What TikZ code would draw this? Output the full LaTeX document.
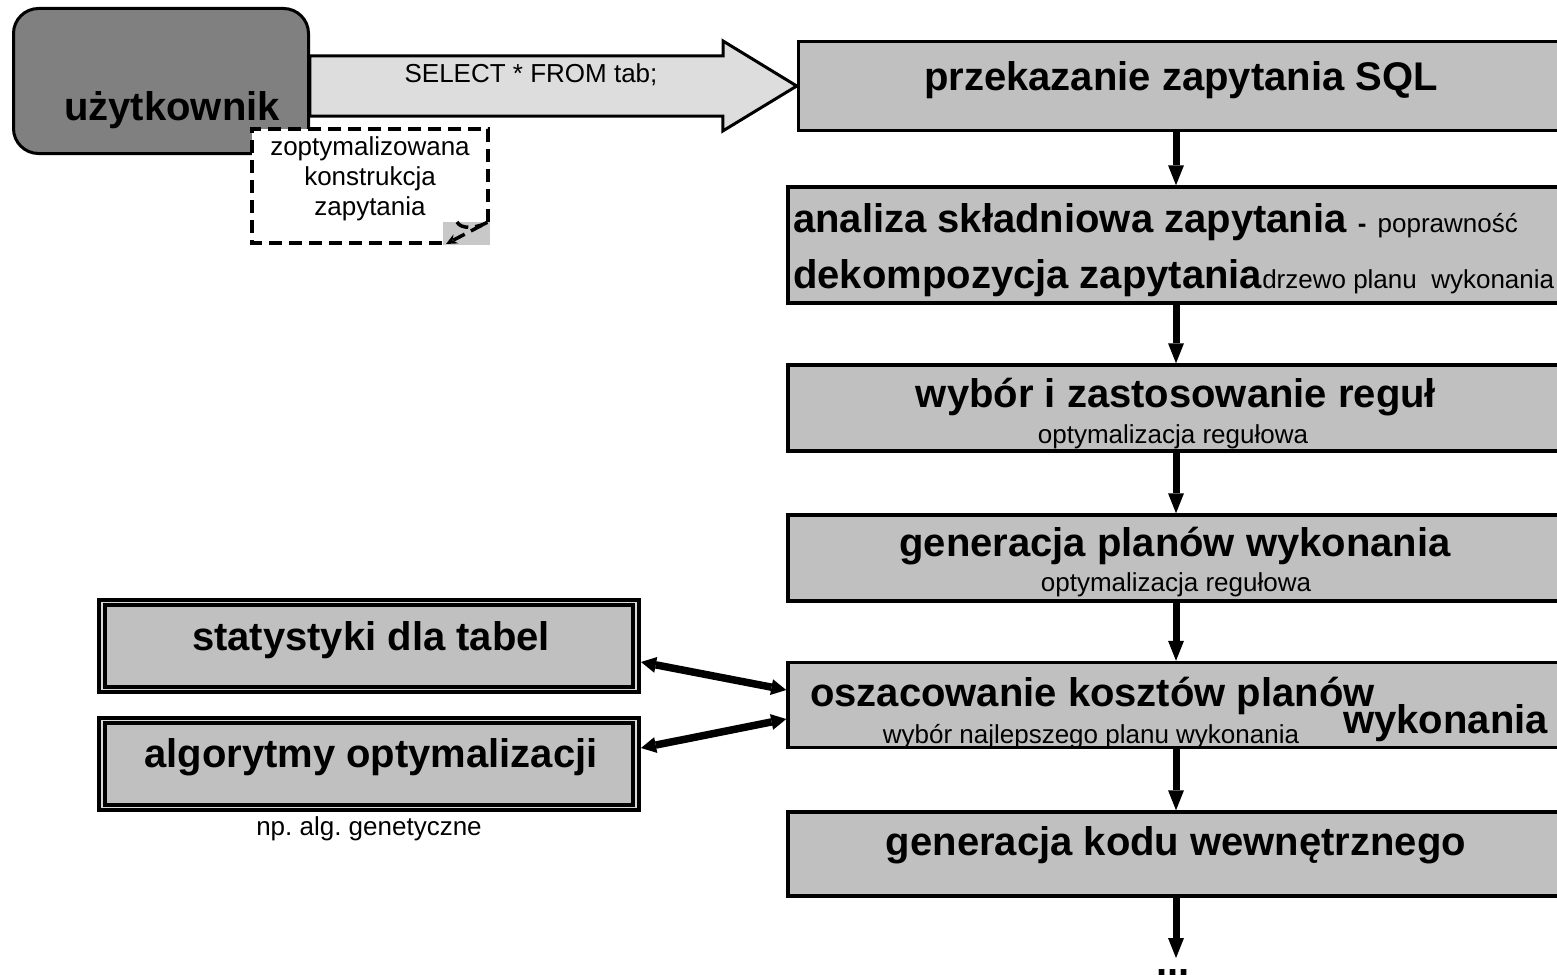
\documentclass[tikz,border=0pt]{standalone}
\usepackage{fontspec}
\setmainfont{Liberation Sans}
\usetikzlibrary{arrows.meta}
\definecolor{boxgray}{HTML}{C0C0C0}
\definecolor{usergray}{HTML}{808080}
\definecolor{sqlgray}{HTML}{DDDDDD}
\definecolor{foldgray}{HTML}{C8C8C8}
\newcommand{\hdfont}{\fontsize{40}{48}\selectfont\bfseries}
\newcommand{\subfont}{\fontsize{26}{30}\selectfont\mdseries}
\frenchspacing

\begin{document}
\begin{tikzpicture}[
  x=1pt, y=-1pt,
  stepbox/.style={
    draw,
    line width=3.5pt,
    fill=boxgray,
    inner sep=0pt,
    minimum width=776pt
  },
  dbox/.style={
    draw,
    line width=4pt,
    double=boxgray!60!white,
    double distance=1.5pt,
    fill=boxgray,
    inner sep=0pt,
    outer sep=5pt,
    minimum width=534pt,
    minimum height=87pt
  },
  hd/.style={font=\hdfont, inner sep=0pt},
  sub/.style={font=\subfont, inner sep=0pt},
  flowarrow/.style={line width=7pt, -{Triangle[length=20pt,width=16pt,line width=0pt]}},
  dblarrow/.style={line width=7.5pt,
    {Triangle[length=15pt,width=16pt,line width=0pt]}-{Triangle[length=15pt,width=16pt,line width=0pt]}},
  fatarrow/.style={draw, line width=3pt, fill=sqlgray, line join=miter},
  notedash/.style={line width=3.5pt, dash pattern=on 13pt off 7pt}
]
  \useasboundingbox (0,0) rectangle (1557,974);

  \node[draw, line width=3pt, fill=usergray, rounded corners=25pt,
        minimum width=295pt, minimum height=145pt] (user) at (161,81) {};
  \node[hd] (usertxt) at (172,110) {użytkownik};

  \node[stepbox, minimum width=765pt, minimum height=89pt] (sql) at (1181,86) {};
  \node[stepbox, minimum height=116pt] (parse) at (1176,245) {};
  \node[stepbox, minimum height=86pt] (rules) at (1176,408) {};
  \node[stepbox, minimum height=86pt] (plans) at (1176,558) {};
  \node[stepbox, minimum height=85pt] (cost) at (1176,705) {};
  \node[stepbox, minimum height=84pt] (code) at (1176,854) {};

  \node[hd] (sqltxt) at (1181,80) {przekazanie zapytania SQL};
  \node[hd, anchor=west] (parsetxt) at (793,222)
    {analiza składniowa zapytania {\subfont\bfseries-} {\subfont poprawność}};
  \node[hd, anchor=west] (decomptxt) at (793,278)
    {dekompozycja zapytania\subfont drzewo planu\ \ wykonania};
  \node[hd] (rulestxt) at (1176,397) {wybór i zastosowanie reguł};
  \node[sub] (rulessub) at (1173,437) {optymalizacja regułowa};
  \node[hd] (planstxt) at (1175,546) {generacja planów wykonania};
  \node[sub] (planssub) at (1176,585) {optymalizacja regułowa};
  \node[hd, anchor=west] (costtxt) at (810,696) {oszacowanie kosztów planów};
  \node[hd, anchor=east] (costtxt2) at (1548,723) {wykonania};
  \node[sub] (costsub) at (1091,737) {wybór najlepszego planu wykonania};
  \node[hd] (codetxt) at (1176,845) {generacja kodu wewnętrznego};
  \node[hd, anchor=base] (dots) at (1173,975) {...};
  \coordinate (next) at (1176,958);

  \node[dbox] (stats) at (369,646) {};
  \node[dbox] (algo) at (369,764) {};
  \node[hd] (statstxt) at (371,640) {statystyki dla tabel};
  \node[hd] (algotxt) at (371,757) {algorytmy optymalizacji};
  \node[sub] (algosub) at (369,829) {np. alg. genetyczne};

  \draw[fatarrow] (user.east |- sql.west) ++(0,-30) -- ++(413,0) -- ++(0,-15)
    -- (sql.west) -- ++(-74,45) -- ++(0,-15) -- ++(-413,0) -- cycle;
  \node[sub] (select) at (531,75) {SELECT * FROM tab;};

  \node[fill=white, inner sep=0pt, outer sep=0pt,
        minimum width=236pt, minimum height=114pt] (note) at (370,186) {};
  \fill[foldgray] ([xshift=-45pt,yshift=21pt]note.south east)
    rectangle ([xshift=2pt,yshift=-2pt]note.south east);
  \draw[notedash] ([yshift=21pt]note.south east) -- (note.north east)
    -- (note.north west) -- (note.south west) -- ([xshift=-41pt]note.south east);
  \draw[notedash, -{Stealth[length=11pt,width=10pt]}]
    ([xshift=-31pt,yshift=21pt]note.south east) .. controls +(4,8) and +(-10,6)
    .. ([yshift=21pt]note.south east) -- ([xshift=-42pt,yshift=-1pt]note.south east);
  \node[sub, align=center, font=\fontsize{26}{30}\selectfont] (notetxt) at (370,179)
    {zoptymalizowana\\konstrukcja\\zapytania};

  \foreach \a/\b in {sql/parse, parse/rules, rules/plans, plans/cost, cost/code}
    \draw[flowarrow] (\a.south -| \b.north) -- (\b.north);
  \draw[flowarrow] (code.south) -- (next);

  \draw[dblarrow] ([yshift=-16pt]stats.east) -- ([yshift=15pt]cost.west);
  \draw[dblarrow] ([yshift=16pt]algo.east) -- ([yshift=-14pt]cost.west);
\end{tikzpicture}
\end{document}
